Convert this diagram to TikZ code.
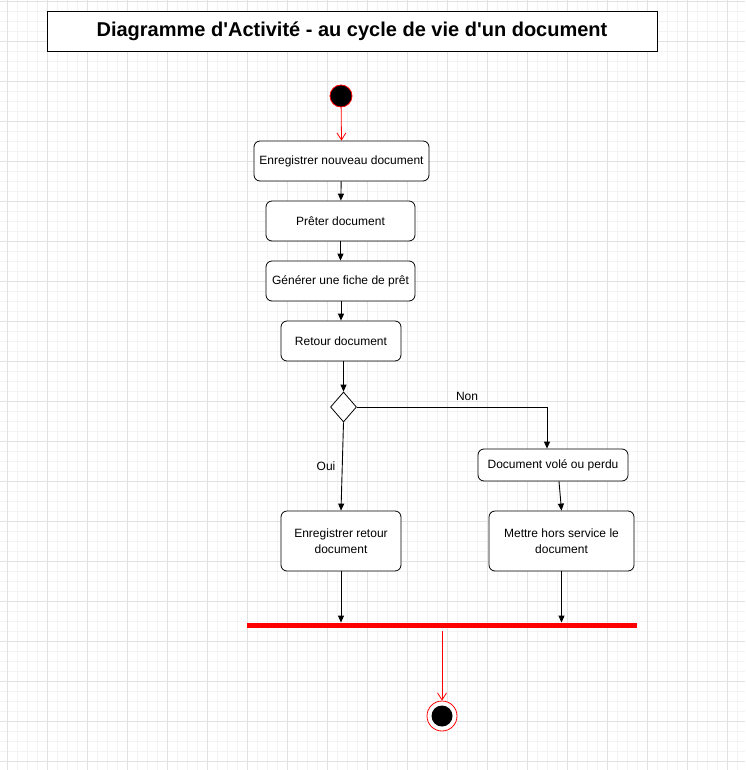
\documentclass[tikz,border=0pt]{standalone}
\usepackage{fontspec}
\setmainfont{Liberation Sans}
\usetikzlibrary{arrows.meta,shapes.geometric}
\definecolor{gridminor}{HTML}{F3F3F3}
\definecolor{gridmajor}{HTML}{E2E2E2}
\definecolor{umlred}{HTML}{FF0000}
\begin{document}
\begin{tikzpicture}[x=1pt,y=-1pt,
  act/.style={draw=black,line width=0.8pt,rounded corners=6pt,fill=white,
    inner sep=0pt,align=center,font=\fontsize{12}{16}\selectfont},
  flow/.style={draw=black,line width=0.9pt,-{Triangle[length=7pt,width=6pt]}},
  redflow/.style={draw=umlred,line width=0.8pt,-{Straight Barb[length=7pt,width=9pt,line width=0.8pt]}},
  lbl/.style={font=\fontsize{12}{14}\selectfont,inner sep=0pt}
]
\useasboundingbox (0,0) rectangle (745,770);
\fill[white] (0,0) rectangle (745,770);
% grid
\foreach \x in {7,17,...,745} \draw[gridminor,line width=0.6pt] (\x,0) -- (\x,770);
\foreach \y in {1,11,...,770} \draw[gridminor,line width=0.6pt] (0,\y) -- (745,\y);
\foreach \x in {7,47,...,745} \draw[gridmajor,line width=0.7pt] (\x,0) -- (\x,770);
\foreach \y in {1,41,...,770} \draw[gridmajor,line width=0.7pt] (0,\y) -- (745,\y);

% title
\node[draw=black,line width=0.9pt,fill=white,minimum width=610pt,minimum height=40pt,inner sep=0pt,
  font=\bfseries\fontsize{20}{24}\selectfont] (title) at (352,31) {Diagramme d\textquotesingle Activité - au cycle de vie d\textquotesingle un document};

% start
\node[circle,fill=black,draw=umlred,line width=0.8pt,minimum size=22pt,inner sep=0pt] (start) at (341,96) {};

% activities
\node[act,minimum width=175pt,minimum height=40pt] (b1) at (341.5,161) {Enregistrer nouveau document};
\node[act,minimum width=149pt,minimum height=40pt] (b2) at (340.5,221) {Prêter document};
\node[act,minimum width=149pt,minimum height=40pt] (b3) at (340.5,281) {Générer une fiche de prêt};
\node[act,minimum width=120pt,minimum height=40pt] (b4) at (341,341) {Retour document};
\node[diamond,draw=black,line width=0.8pt,fill=white,minimum width=26pt,minimum height=30pt,inner sep=0pt] (dec) at (343.5,407) {};
\node[act,minimum width=150pt,minimum height=32pt] (b5) at (553,465) {Document volé ou perdu};
\node[act,minimum width=120pt,minimum height=60pt] (b6) at (341,541) {Enregistrer retour\\document};
\node[act,minimum width=145pt,minimum height=60pt] (b7) at (561.5,541) {Mettre hors service le\\document};

% bar
\node[fill=umlred,minimum width=390pt,minimum height=5.5pt,inner sep=0pt] (bar) at (442,625.5) {};

% end
\node[circle,draw=umlred,line width=0.8pt,fill=white,minimum size=30pt,inner sep=0pt] (end) at (442,716) {};
\node[circle,fill=black,minimum size=21pt,inner sep=0pt] (endin) at (442,716) {};

% connectors
\draw[redflow] (start) -- (b1.north);
\draw[flow] (b1) -- (b2);
\draw[flow] (b2) -- (b3);
\draw[flow] (b3.south -| b4) -- (b4);
\draw[flow] ([xshift=2.5pt]b4.south) -- (dec.north);
\coordinate (nonend) at ([xshift=-6pt]b5.north);
\draw[flow] (dec.east) -| (nonend);
\node[lbl] (non) at (467,396) {Non};
\draw[flow] (dec.south) -- (b6.north);
\node[lbl] (oui) at (326,466) {Oui};
\draw[flow] ([xshift=6pt]b5.south) -- (b7.north);
\draw[flow] (b6.south) -- (b6.south |- bar.north);
\draw[flow] (b7.south) -- (b7.south |- bar.north);
\coordinate (barout) at ([yshift=-3pt]bar.south);
\draw[redflow] (barout) -- (end.north);
\end{tikzpicture}
\end{document}
